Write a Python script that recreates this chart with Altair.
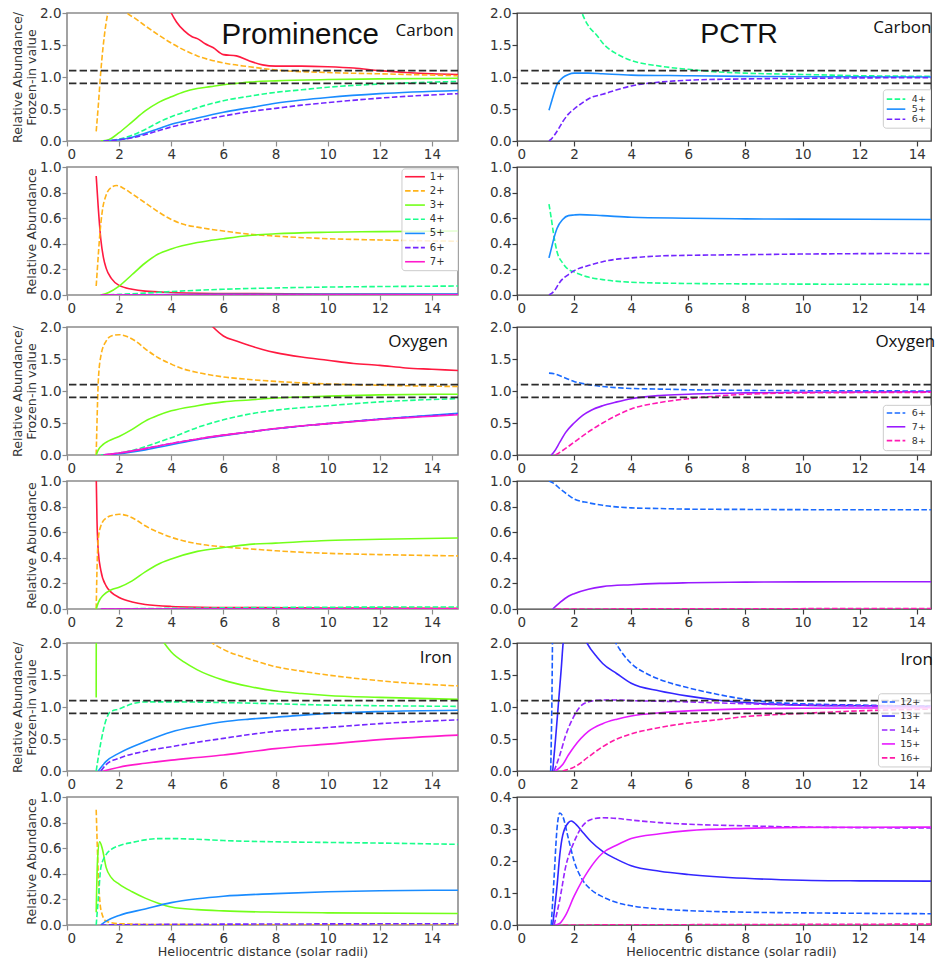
import altair as alt
import pandas as pd

# ---------------------------------------------------------------------------
# Series values: (heliocentric distance in solar radii, value)
# Keys are line styles (colour slot); see STYLE below.
# ---------------------------------------------------------------------------

# Prominence, carbon: abundance / frozen-in value
PROM_C_RATIO = {
    "c1": [(3.5, 2.6), (4.0, 2.0), (4.2, 1.86), (4.5, 1.72), (4.8, 1.63), (5.0, 1.60), (5.3, 1.52),
           (5.6, 1.46), (6.0, 1.35), (6.5, 1.33), (7.0, 1.25), (7.5, 1.19), (8.0, 1.17), (9.0, 1.17),
           (10.0, 1.16), (11.0, 1.14), (12.0, 1.10), (13.0, 1.07), (14.0, 1.05), (15.0, 1.04)],
    "c2": [(1.12, 0.15), (1.2, 0.55), (1.3, 1.1), (1.45, 1.7), (1.6, 2.05), (1.9, 2.25), (2.3, 2.0),
           (2.6, 1.92), (3.0, 1.8), (3.5, 1.66), (4.0, 1.53), (4.5, 1.42), (5.0, 1.33), (6.0, 1.22),
           (7.0, 1.16), (8.0, 1.11), (10.0, 1.07), (12.0, 1.05), (15.0, 1.02)],
    "c3": [(1.3, 0.0), (1.6, 0.02), (2.0, 0.13), (2.5, 0.3), (3.0, 0.47), (3.5, 0.6), (4.0, 0.69),
           (4.5, 0.77), (5.0, 0.82), (5.5, 0.85), (6.0, 0.88), (6.5, 0.9), (7.0, 0.92), (8.0, 0.94),
           (10.0, 0.96), (12.0, 0.97), (15.0, 0.98)],
    "c4": [(1.4, 0.0), (2.0, 0.03), (2.5, 0.09), (3.0, 0.18), (3.5, 0.29), (4.0, 0.38), (4.5, 0.45),
           (5.0, 0.52), (6.0, 0.63), (7.0, 0.7), (8.0, 0.76), (9.0, 0.8), (10.0, 0.84), (12.0, 0.89),
           (15.0, 0.93)],
    "c5": [(1.4, 0.0), (2.0, 0.02), (2.5, 0.06), (3.0, 0.12), (3.5, 0.19), (4.0, 0.26), (5.0, 0.36),
           (6.0, 0.45), (7.0, 0.52), (8.0, 0.59), (9.0, 0.64), (10.0, 0.68), (12.0, 0.74), (15.0, 0.79)],
    "c6": [(1.4, 0.0), (2.0, 0.02), (2.5, 0.05), (3.0, 0.1), (3.5, 0.16), (4.0, 0.22), (5.0, 0.31),
           (6.0, 0.39), (7.0, 0.46), (8.0, 0.51), (9.0, 0.56), (10.0, 0.6), (12.0, 0.67), (15.0, 0.74)],
}

# Prominence, carbon: relative abundance
PROM_C_ABUND = {
    "c1": [(1.12, 0.93), (1.2, 0.68), (1.3, 0.43), (1.4, 0.29), (1.5, 0.21), (1.7, 0.13), (2.0, 0.075),
           (2.5, 0.045), (3.0, 0.03), (4.0, 0.02), (6.0, 0.012), (10.0, 0.008), (15.0, 0.006)],
    "c2": [(1.12, 0.07), (1.18, 0.25), (1.25, 0.45), (1.35, 0.65), (1.5, 0.78), (1.7, 0.84), (1.9, 0.855),
           (2.2, 0.83), (2.5, 0.79), (3.0, 0.72), (3.5, 0.65), (4.0, 0.59), (4.5, 0.55), (5.0, 0.53),
           (6.0, 0.5), (7.0, 0.475), (8.0, 0.46), (10.0, 0.44), (12.0, 0.43), (15.0, 0.42)],
    "c3": [(1.3, 0.0), (1.6, 0.02), (2.0, 0.07), (2.5, 0.16), (3.0, 0.25), (3.5, 0.32), (4.0, 0.36),
           (5.0, 0.41), (6.0, 0.44), (7.0, 0.465), (8.0, 0.478), (10.0, 0.49), (12.0, 0.495), (15.0, 0.5)],
    "c4": [(1.3, 0.0), (2.0, 0.005), (3.0, 0.015), (4.0, 0.027), (6.0, 0.045), (8.0, 0.055),
           (10.0, 0.062), (12.0, 0.066), (15.0, 0.07)],
    "c5": [(1.3, 0.0), (4.0, 0.003), (8.0, 0.006), (15.0, 0.008)],
    "c6": [(1.3, 0.0), (15.0, 0.002)],
    "c7": [(1.3, 0.0), (15.0, 0.001)],
}

# Prominence, oxygen: abundance / frozen-in value
PROM_O_RATIO = {
    "c1": [(5.0, 2.3), (5.6, 2.0), (6.0, 1.86), (6.5, 1.78), (7.0, 1.71), (7.5, 1.65), (8.0, 1.6),
           (9.0, 1.53), (10.0, 1.48), (11.0, 1.43), (12.0, 1.4), (13.0, 1.36), (14.0, 1.34), (15.0, 1.32)],
    "c2": [(1.12, 0.0), (1.15, 0.5), (1.2, 1.15), (1.3, 1.55), (1.5, 1.78), (1.7, 1.86), (2.0, 1.88),
           (2.3, 1.85), (2.7, 1.76), (3.0, 1.66), (3.5, 1.52), (4.0, 1.42), (4.5, 1.34), (5.0, 1.29),
           (6.0, 1.22), (7.0, 1.18), (8.0, 1.15), (10.0, 1.11), (12.0, 1.09), (15.0, 1.07)],
    "c3": [(1.12, 0.0), (1.2, 0.08), (1.4, 0.17), (1.6, 0.22), (2.0, 0.29), (2.5, 0.4), (3.0, 0.53),
           (3.5, 0.62), (4.0, 0.69), (5.0, 0.77), (6.0, 0.83), (7.0, 0.86), (8.0, 0.89), (10.0, 0.92),
           (12.0, 0.94), (15.0, 0.95)],
    "c4": [(1.3, 0.0), (2.0, 0.03), (2.5, 0.07), (3.0, 0.13), (3.5, 0.2), (4.0, 0.27), (5.0, 0.43),
           (6.0, 0.55), (7.0, 0.64), (8.0, 0.7), (10.0, 0.77), (12.0, 0.83), (15.0, 0.88)],
    "c5": [(1.4, 0.0), (2.0, 0.02), (3.0, 0.08), (4.0, 0.16), (5.0, 0.24), (6.0, 0.3), (7.0, 0.36),
           (8.0, 0.41), (10.0, 0.49), (12.0, 0.56), (15.0, 0.65)],
    "c6": [(1.4, 0.0), (2.0, 0.03), (3.0, 0.1), (4.0, 0.18), (5.0, 0.25), (6.0, 0.31), (7.0, 0.36),
           (8.0, 0.41), (10.0, 0.49), (12.0, 0.56), (15.0, 0.64)],
    "c7": [(1.4, 0.0), (2.0, 0.03), (3.0, 0.1), (4.0, 0.18), (5.0, 0.25), (6.0, 0.31), (7.0, 0.36),
           (8.0, 0.415), (10.0, 0.49), (12.0, 0.555), (15.0, 0.63)],
}

# Prominence, oxygen: relative abundance
PROM_O_ABUND = {
    "c1": [(1.12, 1.05), (1.15, 0.7), (1.2, 0.45), (1.3, 0.3), (1.5, 0.18), (1.7, 0.13), (2.0, 0.09),
           (2.5, 0.055), (3.0, 0.035), (4.0, 0.02), (6.0, 0.012), (10.0, 0.008), (15.0, 0.006)],
    "c2": [(1.12, 0.0), (1.15, 0.3), (1.2, 0.55), (1.3, 0.65), (1.5, 0.71), (1.8, 0.735), (2.0, 0.74),
           (2.3, 0.73), (2.7, 0.69), (3.0, 0.65), (3.5, 0.6), (4.0, 0.56), (5.0, 0.51), (6.0, 0.485),
           (7.0, 0.47), (8.0, 0.455), (10.0, 0.435), (12.0, 0.425), (15.0, 0.415)],
    "c3": [(1.12, 0.0), (1.2, 0.05), (1.4, 0.11), (1.7, 0.15), (2.0, 0.17), (2.5, 0.22), (3.0, 0.29),
           (3.5, 0.35), (4.0, 0.39), (5.0, 0.45), (6.0, 0.48), (7.0, 0.505), (8.0, 0.515),
           (10.0, 0.535), (12.0, 0.545), (15.0, 0.555)],
    "c4": [(1.3, 0.0), (4.0, 0.005), (8.0, 0.012), (15.0, 0.016)],
    "c5": [(1.3, 0.0), (15.0, 0.002)],
    "c6": [(1.3, 0.0), (15.0, 0.002)],
    "c7": [(1.3, 0.0), (15.0, 0.001)],
}

# Prominence, iron: abundance / frozen-in value
PROM_FE_RATIO = {
    "c2": [(4.5, 2.5), (5.58, 2.0), (6.0, 1.9), (7.0, 1.75), (8.0, 1.63), (9.0, 1.56), (10.0, 1.5),
           (12.0, 1.41), (14.0, 1.35), (15.0, 1.33)],
    "c3": [(1.12, 1.15), (1.13, 4.0), (3.5, 2.15), (3.73, 2.0), (4.0, 1.86), (4.5, 1.7), (5.0, 1.58),
           (6.0, 1.42), (7.0, 1.32), (8.0, 1.25), (9.0, 1.21), (10.0, 1.18), (12.0, 1.15), (15.0, 1.12)],
    "c4": [(1.12, 0.0), (1.3, 0.45), (1.5, 0.8), (1.65, 0.92), (2.0, 0.97), (2.5, 1.05), (3.0, 1.08),
           (4.0, 1.08), (6.0, 1.07), (8.0, 1.05), (10.0, 1.03), (12.0, 1.02), (15.0, 1.01)],
    "c5": [(1.2, 0.0), (1.5, 0.15), (2.0, 0.28), (3.0, 0.46), (4.0, 0.61), (5.0, 0.7), (6.0, 0.77),
           (7.0, 0.81), (8.0, 0.84), (10.0, 0.9), (12.0, 0.93), (15.0, 0.95)],
    "c6": [(1.3, 0.0), (1.5, 0.1), (2.0, 0.2), (3.0, 0.31), (4.0, 0.38), (5.0, 0.45), (6.0, 0.51),
           (7.0, 0.57), (8.0, 0.62), (10.0, 0.68), (12.0, 0.74), (15.0, 0.8)],
    "c7": [(1.4, 0.0), (2.0, 0.06), (3.0, 0.12), (4.0, 0.17), (5.0, 0.21), (6.0, 0.25), (7.0, 0.3),
           (8.0, 0.35), (10.0, 0.42), (12.0, 0.49), (15.0, 0.56)],
}

# Prominence, iron: relative abundance
PROM_FE_ABUND = {
    "c2": [(1.12, 0.9), (1.2, 0.4), (1.3, 0.12), (1.5, 0.03), (2.0, 0.01), (4.0, 0.003), (15.0, 0.0)],
    "c3": [(1.12, 0.1), (1.17, 0.5), (1.25, 0.65), (1.35, 0.6), (1.5, 0.45), (1.7, 0.37), (2.0, 0.32),
           (2.5, 0.26), (3.0, 0.21), (3.5, 0.17), (4.0, 0.14), (5.0, 0.12), (6.0, 0.11), (8.0, 0.1),
           (10.0, 0.095), (15.0, 0.09)],
    "c4": [(1.12, 0.0), (1.2, 0.2), (1.3, 0.45), (1.5, 0.55), (1.7, 0.59), (2.0, 0.62), (2.5, 0.645),
           (3.0, 0.665), (3.5, 0.675), (4.0, 0.675), (5.0, 0.67), (6.0, 0.66), (8.0, 0.65),
           (10.0, 0.645), (12.0, 0.64), (15.0, 0.63)],
    "c5": [(1.3, 0.0), (1.5, 0.03), (2.0, 0.075), (3.0, 0.125), (4.0, 0.175), (5.0, 0.205), (6.0, 0.225),
           (8.0, 0.245), (10.0, 0.26), (12.0, 0.268), (15.0, 0.272)],
    "c6": [(1.3, 0.0), (4.0, 0.005), (15.0, 0.01)],
}

# PCTR, carbon
PCTR_C_RATIO = {
    "c4": [(1.12, 8.0), (2.0, 2.5), (2.28, 2.0), (2.5, 1.8), (2.8, 1.65), (3.0, 1.53), (3.5, 1.36),
           (4.0, 1.26), (5.0, 1.17), (6.0, 1.12), (7.0, 1.08), (8.0, 1.06), (10.0, 1.04), (12.0, 1.02),
           (15.0, 1.01)],
    "c5": [(1.12, 0.48), (1.2, 0.6), (1.3, 0.75), (1.4, 0.88), (1.6, 0.99), (1.8, 1.04), (2.0, 1.06),
           (2.5, 1.06), (3.0, 1.05), (4.0, 1.03), (6.0, 1.02), (8.0, 1.01), (15.0, 1.0)],
    "c6": [(1.12, 0.0), (1.2, 0.03), (1.4, 0.15), (1.6, 0.3), (1.8, 0.42), (2.0, 0.5), (2.3, 0.6),
           (2.6, 0.68), (3.0, 0.73), (3.5, 0.8), (4.0, 0.86), (5.0, 0.92), (6.0, 0.95), (8.0, 0.97),
           (10.0, 0.98), (15.0, 0.99)],
}
PCTR_C_ABUND = {
    "c4": [(1.12, 0.71), (1.2, 0.6), (1.3, 0.45), (1.4, 0.34), (1.6, 0.25), (1.8, 0.2), (2.0, 0.18),
           (2.5, 0.14), (3.0, 0.12), (4.0, 0.1), (6.0, 0.09), (8.0, 0.087), (10.0, 0.085), (15.0, 0.083)],
    "c5": [(1.12, 0.29), (1.2, 0.36), (1.3, 0.45), (1.4, 0.52), (1.6, 0.59), (1.8, 0.62), (2.0, 0.625),
           (2.2, 0.628), (3.0, 0.62), (4.0, 0.607), (6.0, 0.6), (8.0, 0.595), (10.0, 0.593), (15.0, 0.59)],
    "c6": [(1.12, 0.0), (1.3, 0.03), (1.5, 0.1), (1.8, 0.16), (2.0, 0.19), (2.5, 0.23), (3.0, 0.26),
           (3.5, 0.28), (4.0, 0.29), (5.0, 0.305), (6.0, 0.31), (8.0, 0.315), (10.0, 0.32), (15.0, 0.325)],
}

# PCTR, oxygen
PCTR_O_RATIO = {
    "o6": [(1.12, 1.28), (1.3, 1.27), (1.6, 1.22), (2.0, 1.15), (2.5, 1.1), (3.0, 1.07), (4.0, 1.04),
           (5.0, 1.03), (6.0, 1.02), (8.0, 1.01), (15.0, 1.0)],
    "o7": [(1.2, 0.0), (1.3, 0.05), (1.5, 0.2), (1.7, 0.35), (2.0, 0.5), (2.3, 0.62), (2.6, 0.7),
           (3.0, 0.77), (3.5, 0.83), (4.0, 0.88), (5.0, 0.93), (6.0, 0.95), (8.0, 0.97), (10.0, 0.98),
           (15.0, 0.99)],
    "o8": [(1.35, 0.0), (1.6, 0.07), (2.0, 0.2), (2.5, 0.36), (3.0, 0.5), (3.5, 0.62), (4.0, 0.72),
           (5.0, 0.82), (6.0, 0.88), (7.0, 0.92), (8.0, 0.95), (10.0, 0.97), (15.0, 0.98)],
}
PCTR_O_ABUND = {
    "o6": [(1.12, 1.0), (1.3, 0.98), (1.5, 0.94), (1.8, 0.89), (2.0, 0.86), (2.5, 0.83), (3.0, 0.81),
           (4.0, 0.79), (5.0, 0.785), (6.0, 0.78), (8.0, 0.778), (10.0, 0.776), (15.0, 0.775)],
    "o7": [(1.25, 0.0), (1.5, 0.05), (1.8, 0.1), (2.0, 0.12), (2.5, 0.155), (3.0, 0.175), (4.0, 0.19),
           (5.0, 0.2), (6.0, 0.205), (8.0, 0.21), (10.0, 0.212), (15.0, 0.213)],
    "o8": [(1.35, 0.0), (15.0, 0.004)],
}

# PCTR, iron
PCTR_FE_RATIO = {
    "f12": [(1.18, 0.0), (1.22, 1.0), (1.26, 2.5), (2.5, 3.0), (3.4, 2.05), (3.5, 1.97), (4.0, 1.68),
            (4.5, 1.53), (5.0, 1.43), (6.0, 1.3), (7.0, 1.2), (8.0, 1.12), (9.0, 1.07), (10.0, 1.05),
            (12.0, 1.03), (15.0, 1.01)],
    "f13": [(1.25, 0.0), (1.35, 0.5), (1.45, 1.05), (1.55, 1.6), (1.63, 2.05), (2.0, 2.5), (2.45, 2.0),
            (2.8, 1.78), (3.0, 1.68), (3.5, 1.52), (4.0, 1.37), (5.0, 1.25), (6.0, 1.17), (7.0, 1.11),
            (8.0, 1.07), (10.0, 1.03), (12.0, 1.02), (15.0, 1.01)],
    "f14": [(1.3, 0.0), (1.5, 0.25), (1.7, 0.55), (2.0, 0.86), (2.2, 1.0), (2.5, 1.08), (3.0, 1.11),
            (3.5, 1.11), (4.0, 1.1), (5.0, 1.09), (6.0, 1.08), (8.0, 1.05), (10.0, 1.03), (12.0, 1.02),
            (15.0, 1.01)],
    "f15": [(1.35, 0.0), (1.6, 0.1), (1.8, 0.25), (2.0, 0.38), (2.5, 0.62), (3.0, 0.74), (3.5, 0.81),
            (4.0, 0.86), (5.0, 0.91), (6.0, 0.94), (8.0, 0.97), (10.0, 0.98), (15.0, 0.99)],
    "f16": [(1.6, 0.0), (2.0, 0.06), (2.5, 0.22), (3.0, 0.38), (3.5, 0.5), (4.0, 0.58), (5.0, 0.68),
            (6.0, 0.75), (7.0, 0.8), (8.0, 0.85), (10.0, 0.9), (12.0, 0.94), (15.0, 0.97)],
}
PCTR_FE_ABUND = {
    "f12": [(1.2, 0.0), (1.3, 0.15), (1.4, 0.3), (1.5, 0.35), (1.6, 0.34), (1.8, 0.27), (2.0, 0.2),
            (2.3, 0.14), (2.6, 0.11), (3.0, 0.088), (3.5, 0.07), (4.0, 0.06), (5.0, 0.05), (6.0, 0.045),
            (8.0, 0.04), (10.0, 0.038), (15.0, 0.035)],
    "f13": [(1.25, 0.0), (1.4, 0.12), (1.5, 0.22), (1.6, 0.28), (1.8, 0.32), (1.9, 0.325), (2.0, 0.32),
            (2.3, 0.29), (2.6, 0.26), (3.0, 0.23), (3.5, 0.205), (4.0, 0.185), (5.0, 0.168),
            (6.0, 0.158), (8.0, 0.146), (10.0, 0.14), (12.0, 0.138), (15.0, 0.137)],
    "f14": [(1.3, 0.0), (1.5, 0.08), (1.7, 0.18), (2.0, 0.26), (2.3, 0.31), (2.6, 0.33), (3.0, 0.335),
            (3.5, 0.333), (4.0, 0.328), (5.0, 0.32), (6.0, 0.315), (8.0, 0.31), (10.0, 0.306),
            (15.0, 0.303)],
    "f15": [(1.35, 0.0), (1.5, 0.005), (1.7, 0.03), (2.0, 0.09), (2.5, 0.17), (3.0, 0.225), (3.5, 0.25),
            (4.0, 0.27), (5.0, 0.285), (6.0, 0.295), (8.0, 0.302), (10.0, 0.305), (15.0, 0.306)],
    "f16": [(1.6, 0.0), (15.0, 0.003)],
}

# Frozen-in band drawn on the ratio panels
FROZEN_BAND = [0.9, 1.1]

# Legend entries (label, style)
LEG_PROM_C = [("1+", "c1"), ("2+", "c2"), ("3+", "c3"), ("4+", "c4"), ("5+", "c5"), ("6+", "c6"), ("7+", "c7")]
LEG_PCTR_C = [("4+", "c4"), ("5+", "c5"), ("6+", "c6")]
LEG_PCTR_O = [("6+", "o6"), ("7+", "o7"), ("8+", "o8")]
LEG_PCTR_FE = [("12+", "f12"), ("13+", "f13"), ("14+", "f14"), ("15+", "f15"), ("16+", "f16")]

# ---------------------------------------------------------------------------
# Styling
# ---------------------------------------------------------------------------
STYLE = {  # colour, dashed?
    "c1": ("#ff1a40", False),
    "c2": ("#ffb31a", True),
    "c3": ("#73ff1a", False),
    "c4": ("#1aff8c", True),
    "c5": ("#1a8cff", False),
    "c6": ("#7326ff", True),
    "c7": ("#ff1acc", False),
    "o6": ("#1a6bff", True),
    "o7": ("#991aff", False),
    "o8": ("#ff1ab3", True),
    "f12": ("#1a5cff", True),
    "f13": ("#3326ff", False),
    "f14": ("#9926ff", True),
    "f15": ("#e61aff", False),
    "f16": ("#ff1aa6", True),
}
DASH = [5.5, 2.4]
LINE_W = 1.6
TICK_FONT = "DejaVu Sans"
LEFT_W, RIGHT_W, PANEL_H = 391, 414, 128
RATIO_TITLE = ["Relative Abundance/", "Frozen-in value"]
ABUND_TITLE = "Relative Abundance"
X_TITLE = "Heliocentric distance (solar radii)"


def frame(points):
    return pd.DataFrame(points, columns=["x", "y"])


def panel(series, ymax, ystep, side, ytitle=None, xtitle=None, band=False, notes=(), legend=None):
    left = side == "L"
    xmax = 15 if left else 14.5
    frame_col = "#8c8c8c" if left else "#3c3c3c"
    yvals = [round(i * ystep, 2) for i in range(int(round(ymax / ystep)) + 1)]
    x_axis = alt.Axis(
        values=list(range(0, 15, 2)), format="d", grid=False, domain=False,
        tickSize=5, tickColor=frame_col, tickWidth=1.2, labelPadding=1,
        labelFont=TICK_FONT, labelFontSize=13.5, labelColor="#333333",
        title=xtitle, titleFont=TICK_FONT, titleFontSize=12.7, titleFontWeight="normal",
        titleColor="#333333", titlePadding=1,
        **({} if left else {"titleX": 214}),
    )
    y_axis = alt.Axis(
        values=yvals, format=".1f", grid=False, domain=False,
        tickSize=5, tickColor=frame_col, tickWidth=1.2, labelPadding=1,
        labelFont=TICK_FONT, labelFontSize=13.5, labelColor="#333333",
        title=ytitle, titleFont=TICK_FONT, titleFontSize=12.7, titleFontWeight="normal",
        titleColor="#333333", titlePadding=1, titleLineHeight=14.5,
    )
    xs = alt.Scale(domain=[0, xmax], nice=False, zero=False)
    ys = alt.Scale(domain=[0, ymax], nice=False)
    xe = alt.X("x:Q", scale=xs, axis=x_axis)
    ye = alt.Y("y:Q", scale=ys, axis=y_axis)

    layers = []
    for key, pts in series.items():
        color, dashed = STYLE[key]
        mk = dict(color=color, strokeWidth=LINE_W, clip=True, interpolate="monotone")
        if dashed:
            mk["strokeDash"] = DASH
        layers.append(alt.Chart(frame(pts)).mark_line(**mk).encode(x=xe, y=ye))

    if band:
        layers.append(
            alt.Chart(pd.DataFrame({"y": FROZEN_BAND}))
            .mark_rule(color="#2b2b2b", strokeWidth=1.8, strokeDash=[7.4, 3.2], clip=True)
            .encode(y=ye)
        )

    for n in notes:
        layers.append(
            alt.Chart(pd.DataFrame([n]))
            .mark_text(font=n["font"], fontSize=n["size"], align="center", baseline="alphabetic",
                       color="#111111")
            .encode(x=xe, y=ye, text="t:N")
        )

    if legend is not None:
        entries, box, sx0, sx1, tx, y0, dy, fsize = legend
        layers.append(
            alt.Chart(pd.DataFrame([box], columns=["x", "x2", "y", "y2"]))
            .mark_rect(fill="white", fillOpacity=0.8, stroke="#cccccc", strokeWidth=1,
                       cornerRadius=3, clip=True)
            .encode(x=xe, x2="x2:Q", y=ye, y2="y2:Q")
        )
        for i, (label, key) in enumerate(entries):
            color, dashed = STYLE[key]
            yy = y0 - i * dy
            mk = dict(color=color, strokeWidth=LINE_W, clip=True)
            if dashed:
                mk["strokeDash"] = DASH
            layers.append(
                alt.Chart(pd.DataFrame({"x": [sx0], "x2": [sx1], "y": [yy]}))
                .mark_rule(**mk).encode(x=xe, x2="x2:Q", y=ye)
            )
            layers.append(
                alt.Chart(pd.DataFrame({"x": [tx], "y": [yy], "t": [label]}))
                .mark_text(font=TICK_FONT, fontSize=fsize, align="left", baseline="middle",
                           color="#333333", clip=True)
                .encode(x=xe, y=ye, text="t:N")
            )

    return alt.layer(*layers).properties(
        width=LEFT_W if left else RIGHT_W, height=PANEL_H,
        view=alt.ViewBackground(stroke=frame_col, strokeWidth=1.6 if left else 1.3),
    )


def note(t, x, y, size, font):
    return {"t": t, "x": x, "y": y, "size": size, "font": font}


def spacer(h):
    return (
        alt.Chart(pd.DataFrame({"v": [0]}))
        .mark_rule(opacity=0)
        .encode(y=alt.value(0))
        .properties(width=1, height=h, view=alt.ViewBackground(stroke=None))
    )


BIG = "Liberation Sans"
ELEM = "Open Sans"

L1 = panel(PROM_C_RATIO, 2.0, 0.5, "L", ytitle=RATIO_TITLE, band=True,
           notes=[note("Prominence", 8.95, 1.52, 29.5, BIG), note("Carbon", 13.72, 1.64, 17, ELEM)])
R1 = panel(PCTR_C_RATIO, 2.0, 0.5, "R", band=True,
           notes=[note("PCTR", 7.78, 1.53, 28.5, BIG), note("Carbon", 13.5, 1.69, 17, ELEM)],
           legend=(LEG_PCTR_C, [12.83, 15.2, 0.8, 0.2], 12.95, 13.6, 13.83, 0.655, 0.157, 9.5))
L2 = panel(PROM_C_ABUND, 1.0, 0.2, "L", ytitle=ABUND_TITLE,
           legend=(LEG_PROM_C, [12.85, 15.2, 0.985, 0.19], 12.97, 13.73, 13.92, 0.924, 0.1107, 10))
R2 = panel(PCTR_C_ABUND, 1.0, 0.2, "R")
L3 = panel(PROM_O_RATIO, 2.0, 0.5, "L", ytitle=RATIO_TITLE, band=True,
           notes=[note("Oxygen", 13.47, 1.69, 17, ELEM)])
R3 = panel(PCTR_O_RATIO, 2.0, 0.5, "R", band=True,
           notes=[note("Oxygen", 13.6, 1.685, 17, ELEM)],
           legend=(LEG_PCTR_O, [12.83, 15.2, 0.776, 0.068], 12.95, 13.6, 13.83, 0.657, 0.216, 9.5))
L4 = panel(PROM_O_ABUND, 1.0, 0.2, "L", ytitle=ABUND_TITLE)
R4 = panel(PCTR_O_ABUND, 1.0, 0.2, "R")
L5 = panel(PROM_FE_RATIO, 2.0, 0.5, "L", ytitle=RATIO_TITLE, band=True,
           notes=[note("Iron", 14.15, 1.69, 17, ELEM)])
R5 = panel(PCTR_FE_RATIO, 2.0, 0.5, "R", band=True,
           notes=[note("Iron", 14.0, 1.65, 17, ELEM)],
           legend=(LEG_PCTR_FE, [12.66, 15.2, 1.207, 0.063], 12.78, 13.24, 13.42, 1.077, 0.218, 9.5))
L6 = panel(PROM_FE_ABUND, 1.0, 0.2, "L", ytitle=ABUND_TITLE, xtitle=X_TITLE)
R6 = panel(PCTR_FE_ABUND, 0.4, 0.1, "R", xtitle=X_TITLE)

cells = [
    L1, R1, spacer(25.5), spacer(25.5),
    L2, R2, spacer(31.5), spacer(31.5),
    L3, R3, spacer(25.5), spacer(25.5),
    L4, R4, spacer(33.5), spacer(33.5),
    L5, R5, spacer(25.5), spacer(25.5),
    L6, R6,
]

chart = alt.concat(
    *cells, columns=2, spacing={"row": 0, "column": 59}, align="each", bounds="flush"
).properties(
    padding={"left": 10, "top": 5, "right": 0, "bottom": 0},
    background="white",
)

chart.save("out.html", embed_options={"renderer": "svg", "actions": False})
